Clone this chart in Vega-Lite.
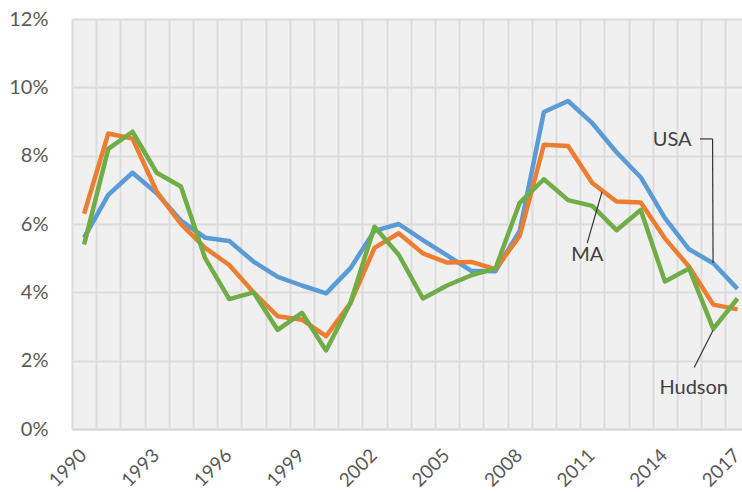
{
  "$schema": "https://vega.github.io/schema/vega-lite/v6.json",
  "width": 670,
  "height": 410,
  "autosize": {"type": "none"},
  "padding": {"left": 72, "top": 19, "right": 0, "bottom": 63},
  "background": "white",
  "config": {"view": {"fill": "#F0F0F0", "stroke": null}, "font": "Lato"},
  "datasets": {
    "series": [
      {"year": 1990, "USA": 5.6, "MA": 6.3, "Hudson": 5.4},
      {"year": 1991, "USA": 6.85, "MA": 8.65, "Hudson": 8.2},
      {"year": 1992, "USA": 7.5, "MA": 8.5, "Hudson": 8.7},
      {"year": 1993, "USA": 6.9, "MA": 6.95, "Hudson": 7.5},
      {"year": 1994, "USA": 6.1, "MA": 6.0, "Hudson": 7.1},
      {"year": 1995, "USA": 5.6, "MA": 5.3, "Hudson": 5.0},
      {"year": 1996, "USA": 5.5, "MA": 4.8, "Hudson": 3.8},
      {"year": 1997, "USA": 4.9, "MA": 4.0, "Hudson": 4.0},
      {"year": 1998, "USA": 4.45, "MA": 3.3, "Hudson": 2.9},
      {"year": 1999, "USA": 4.2, "MA": 3.2, "Hudson": 3.4},
      {"year": 2000, "USA": 3.97, "MA": 2.72, "Hudson": 2.3},
      {"year": 2001, "USA": 4.7, "MA": 3.68, "Hudson": 3.68},
      {"year": 2002, "USA": 5.8, "MA": 5.3, "Hudson": 5.92},
      {"year": 2003, "USA": 6.0, "MA": 5.73, "Hudson": 5.1},
      {"year": 2004, "USA": 5.53, "MA": 5.14, "Hudson": 3.82},
      {"year": 2005, "USA": 5.08, "MA": 4.87, "Hudson": 4.2},
      {"year": 2006, "USA": 4.63, "MA": 4.89, "Hudson": 4.5},
      {"year": 2007, "USA": 4.62, "MA": 4.68, "Hudson": 4.7},
      {"year": 2008, "USA": 5.8, "MA": 5.65, "Hudson": 6.62},
      {"year": 2009, "USA": 9.28, "MA": 8.32, "Hudson": 7.31},
      {"year": 2010, "USA": 9.6, "MA": 8.28, "Hudson": 6.7},
      {"year": 2011, "USA": 8.95, "MA": 7.2, "Hudson": 6.53},
      {"year": 2012, "USA": 8.1, "MA": 6.66, "Hudson": 5.82},
      {"year": 2013, "USA": 7.37, "MA": 6.63, "Hudson": 6.41},
      {"year": 2014, "USA": 6.17, "MA": 5.58, "Hudson": 4.32},
      {"year": 2015, "USA": 5.26, "MA": 4.75, "Hudson": 4.7},
      {"year": 2016, "USA": 4.85, "MA": 3.64, "Hudson": 2.93},
      {"year": 2017, "USA": 4.1, "MA": 3.5, "Hudson": 3.82}
    ],
    "leaders": [
      {"x1": 2015.45, "y1": 8.49, "x2": 2015.97, "y2": 8.49},
      {"x1": 2015.97, "y1": 8.49, "x2": 2015.99, "y2": 4.86},
      {"x1": 2011.4, "y1": 6.94, "x2": 2010.79, "y2": 5.44},
      {"x1": 2015.99, "y1": 2.89, "x2": 2015.21, "y2": 1.8}
    ],
    "labels": [
      {"label": "USA", "x": 2014.3, "y": 8.46},
      {"label": "MA", "x": 2010.79, "y": 5.1},
      {"label": "Hudson", "x": 2015.19, "y": 1.2}
    ]
  },
  "layer": [
    {
      "data": {"name": "series"},
      "transform": [{"fold": ["USA", "MA", "Hudson"], "as": ["region", "rate"]}],
      "mark": {"type": "line", "strokeWidth": 4.5, "strokeJoin": "round"},
      "encoding": {
        "x": {
          "field": "year",
          "type": "quantitative",
          "scale": {"domain": [1989.5, 2017.186], "nice": false, "zero": false},
          "axis": {
            "title": null,
            "tickCount": 200,
            "values": [1989.5, 1990, 1990.5, 1991.5, 1992.5, 1993, 1993.5, 1994.5, 1995.5, 1996, 1996.5, 1997.5, 1998.5, 1999, 1999.5, 2000.5, 2001.5, 2002, 2002.5, 2003.5, 2004.5, 2005, 2005.5, 2006.5, 2007.5, 2008, 2008.5, 2009.5, 2010.5, 2011, 2011.5, 2012.5, 2013.5, 2014, 2014.5, 2015.5, 2016.5, 2017],
            "labelExpr": "datum.value % 1 === 0 ? '' + datum.value : ''",
            "labelAngle": -45,
            "labelAlign": "right",
            "labelBaseline": "middle",
            "labelPadding": 23,
            "labelOffset": -1,
            "labelFontSize": 19,
            "labelFont": "Lato",
            "labelColor": "#595959",
            "labelOverlap": false,
            "labelBound": false,
            "labelFlush": false,
            "ticks": false,
            "tickSize": 0,
            "domainColor": "#D9D9D9",
            "domainWidth": 2,
            "grid": true,
            "gridColor": "#DCDCDC",
            "gridWidth": 2,
            "gridOpacity": {"condition": {"test": "datum.value % 1 !== 0", "value": 1}, "value": 0}
          }
        },
        "y": {
          "field": "rate",
          "type": "quantitative",
          "scale": {"domain": [0, 12], "nice": false},
          "axis": {
            "title": null,
            "values": [0, 2, 4, 6, 8, 10, 12],
            "labelExpr": "datum.value + '%'",
            "labelFontSize": 20,
            "labelFont": "Lato",
            "labelColor": "#595959",
            "labelPadding": 24,
            "ticks": false,
            "tickSize": 0,
            "domain": false,
            "grid": true,
            "gridColor": "#DCDCDC",
            "gridWidth": 2
          }
        },
        "color": {
          "field": "region",
          "type": "nominal",
          "scale": {"domain": ["USA", "MA", "Hudson"], "range": ["#5B9BD5", "#ED7D31", "#70AD47"]},
          "legend": null
        }
      }
    },
    {
      "data": {"name": "leaders"},
      "mark": {"type": "rule", "color": "#333333", "strokeWidth": 1.2},
      "encoding": {
        "x": {"field": "x1", "type": "quantitative"},
        "x2": {"field": "x2"},
        "y": {"field": "y1", "type": "quantitative"},
        "y2": {"field": "y2"}
      }
    },
    {
      "data": {"name": "labels"},
      "mark": {"type": "text", "fontSize": 20, "font": "Lato", "color": "#404040", "align": "center", "baseline": "middle"},
      "encoding": {
        "x": {"field": "x", "type": "quantitative"},
        "y": {"field": "y", "type": "quantitative"},
        "text": {"field": "label"}
      }
    }
  ]
}
